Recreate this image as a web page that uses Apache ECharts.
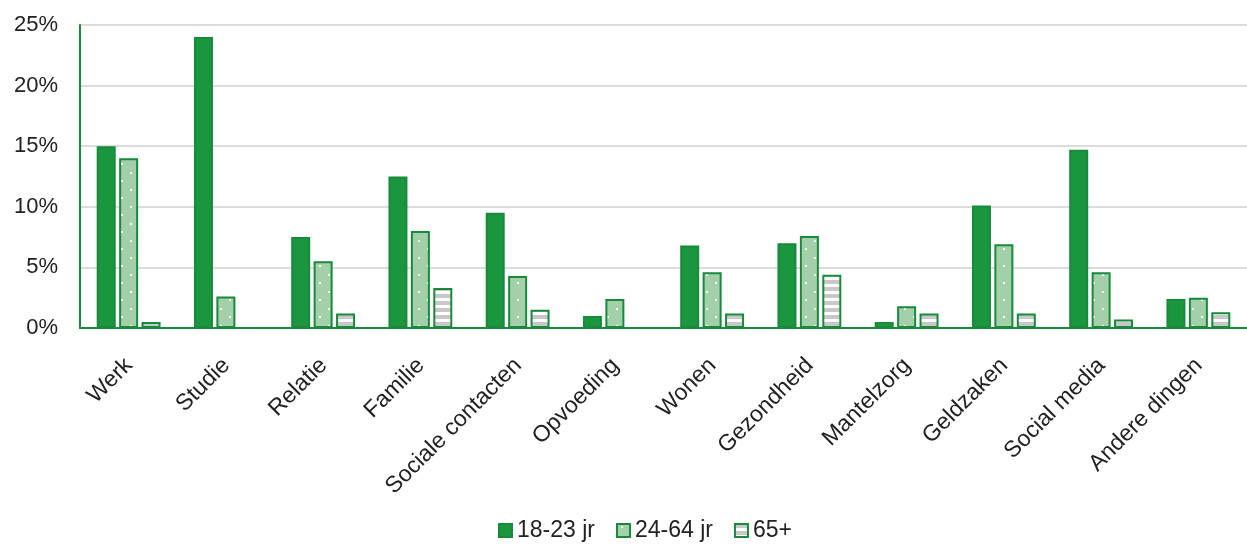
<!DOCTYPE html>
<html><head><meta charset="utf-8">
<script src="https://cdn.jsdelivr.net/npm/echarts@6/dist/echarts.min.js"></script>
<style>html,body{margin:0;padding:0;background:#fff}#c{width:1247px;height:547px}</style>
</head><body><div id="c"></div>
<script>
const categories = ['Werk','Studie','Relatie','Familie','Sociale contacten','Opvoeding','Wonen','Gezondheid','Mantelzorg','Geldzaken','Social media','Andere dingen'];
const seriesNames = ['18-23 jr','24-64 jr','65+'];
const young = [15.0, 24.0, 7.5, 12.5, 9.5, 1.0, 6.8, 7.0, 0.5, 10.1, 14.7, 2.4];
const middle = [14.0, 2.6, 5.5, 8.0, 4.3, 2.4, 4.6, 7.6, 1.8, 6.9, 4.6, 2.5];
const old = [0.5, 0, 1.2, 3.3, 1.5, 0, 1.2, 4.4, 1.2, 1.2, 0.7, 1.3];
const yTicks = [0, 5, 10, 15, 20, 25];

function dotPattern(){
  const c = document.createElement('canvas'); c.width = 18; c.height = 17;
  const g = c.getContext('2d');
  g.fillStyle = '#a3d0a8'; g.fillRect(0,0,18,17);
  g.fillStyle = '#ffffff'; g.fillRect(4,2,2,2); g.fillRect(13,10,2,2);
  return {image: c, repeat: 'repeat'};
}
function stripePattern(){
  const c = document.createElement('canvas'); c.width = 8; c.height = 7;
  const g = c.getContext('2d');
  g.fillStyle = '#ffffff'; g.fillRect(0,0,8,7);
  g.fillStyle = '#c8c8c8'; g.fillRect(0,0,8,4);
  return {image: c, repeat: 'repeat'};
}
const border = '#178a3c';
const chart = echarts.init(document.getElementById('c'));
const font = 'Liberation Sans, Arial, sans-serif';
chart.setOption({
  animation: false,
  textStyle: {fontFamily: font},
  grid: {left: 80, width: 1176, top: 25, bottom: 219, containLabel: false},
  legend: {
    bottom: 0, left: 493, icon: 'rect', itemWidth: 13, itemHeight: 13, itemGap: 21,
    textStyle: {fontSize: 23, color: '#222', fontFamily: font},
    data: seriesNames
  },
  xAxis: {
    type: 'category', data: categories,
    axisLine: {lineStyle: {color: border, width: 2}},
    axisTick: {show: false},
    axisLabel: {rotate: 45, fontSize: 23, color: '#222', interval: 0, margin: 18, verticalAlign: 'top', padding: [0, 11, 0, 0], fontFamily: font}
  },
  yAxis: {
    type: 'value', min: 0, max: 25, interval: 5,
    axisLine: {show: true, lineStyle: {color: border, width: 2}},
    axisTick: {show: false},
    splitLine: {lineStyle: {color: '#dcdcdc', width: 2}},
    axisLabel: {fontSize: 22, color: '#222', margin: 22, fontFamily: font, formatter: v => yTicks.includes(v) ? v + '%' : ''}
  },
  series: [
    {name: seriesNames[0], type: 'bar', data: young, barWidth: 19, barGap: '18%',
     itemStyle: {color: '#1a963f', borderColor: border, borderWidth: 2}},
    {name: seriesNames[1], type: 'bar', data: middle, barWidth: 19, barGap: '18%',
     itemStyle: {color: dotPattern(), borderColor: border, borderWidth: 2}},
    {name: seriesNames[2], type: 'bar', data: old, barWidth: 19, barGap: '18%',
     itemStyle: {color: stripePattern(), borderColor: border, borderWidth: 2}}
  ]
});
</script></body></html>
